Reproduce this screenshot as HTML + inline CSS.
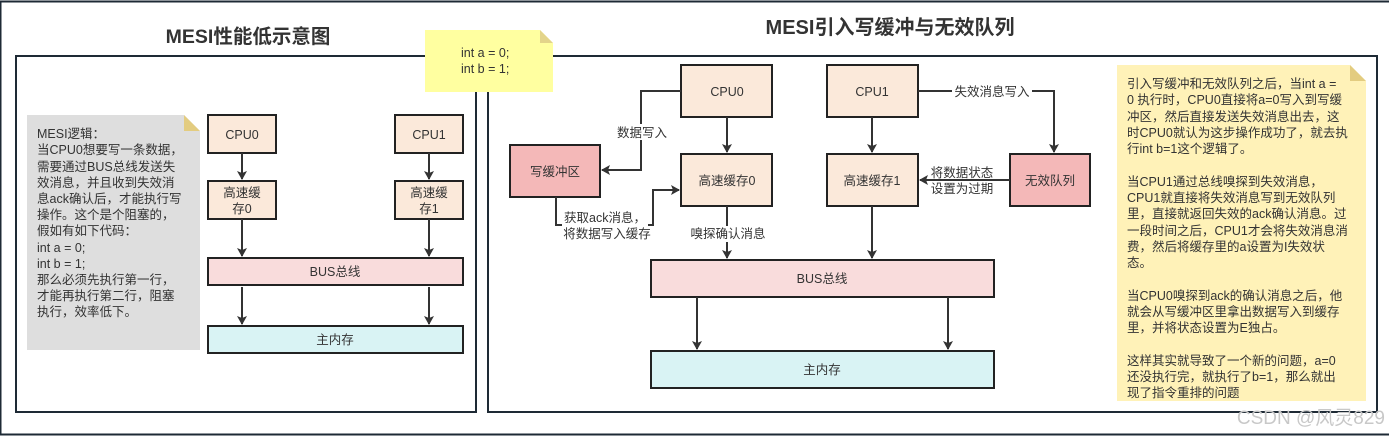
<!DOCTYPE html>
<html><head><meta charset="utf-8"><style>
body{margin:0;background:#fff}
svg{display:block}
text{font-family:"Liberation Sans","Noto Sans CJK SC",sans-serif;fill:#333;font-size:12.5px}
</style></head><body>
<svg width="1389" height="439" viewBox="0 0 1389 439" xmlns="http://www.w3.org/2000/svg">
<defs><marker id="a" markerWidth="10" markerHeight="10" refX="8" refY="5" orient="auto" markerUnits="userSpaceOnUse"><path d="M0,0 L9,5 L0,10 L2,5 Z" fill="#333"/></marker></defs>
<rect x="0.5" y="1.5" width="1400" height="433" fill="none" stroke="#1e2a35" stroke-width="2"/>
<text x="248" y="43" text-anchor="middle" style="font-size:19.5px;font-weight:bold;fill:#333">MESI性能低示意图</text>
<text x="890" y="34" text-anchor="middle" style="font-size:20px;font-weight:bold;fill:#333">MESI引入写缓冲与无效队列</text>
<rect x="16" y="56" width="460" height="356" fill="none" stroke="#1e2a35" stroke-width="2"/>
<rect x="488" y="56" width="889" height="356" fill="none" stroke="#1e2a35" stroke-width="2"/>
<!-- yellow note -->
<path d="M425,30 H540 L553,43 V92 H425 Z" fill="#ffffa0"/><path d="M540,30 L553,43 H540 Z" fill="#e3d48a"/>
<text x="461" y="57">int a = 0;</text><text x="461" y="73">int b = 1;</text>
<!-- gray note -->
<path d="M27,115 H184 L200,131 V350 H27 Z" fill="#dedede"/><path d="M184,115 L200,131 H184 Z" fill="#e3cc80"/>
<g style="font-size:12.5px"><text x="37" y="138">MESI逻辑：</text><text x="37" y="154">当CPU0想要写一条数据，</text><text x="37" y="171">需要通过BUS总线发送失</text><text x="37" y="187">效消息，并且收到失效消</text><text x="37" y="203">息ack确认后，才能执行写</text><text x="37" y="219">操作。这个是个阻塞的，</text><text x="37" y="235">假如有如下代码：</text><text x="37" y="252">int a = 0;</text><text x="37" y="268">int b = 1;</text><text x="37" y="284">那么必须先执行第一行，</text><text x="37" y="300">才能再执行第二行，阻塞</text><text x="37" y="316">执行，效率低下。</text></g>
<!-- left diagram -->
<g stroke="#222" stroke-width="2">
<rect x="208" y="115" width="68" height="38" fill="#fbe9da"/>
<rect x="395" y="115" width="68" height="38" fill="#fbe9da"/>
<rect x="208" y="181" width="68" height="38" fill="#fbe9da"/>
<rect x="395" y="181" width="68" height="38" fill="#fbe9da"/>
<rect x="208" y="258" width="255" height="27" fill="#f9dcdc"/>
<rect x="208" y="326" width="255" height="27" fill="#d9f3f4"/>
</g>
<g stroke="#333" stroke-width="2" marker-end="url(#a)">
<line x1="242" y1="153" x2="242" y2="179"/><line x1="429" y1="153" x2="429" y2="179"/>
<line x1="242" y1="219" x2="242" y2="256"/><line x1="429" y1="219" x2="429" y2="256"/>
<line x1="242" y1="287" x2="242" y2="324"/><line x1="429" y1="287" x2="429" y2="324"/>
</g>
<text x="242" y="139" text-anchor="middle">CPU0</text><text x="429" y="139" text-anchor="middle">CPU1</text>
<text x="242" y="197" text-anchor="middle">高速缓</text><text x="242" y="213" text-anchor="middle">存0</text>
<text x="429" y="197" text-anchor="middle">高速缓</text><text x="429" y="213" text-anchor="middle">存1</text>
<text x="335" y="276" text-anchor="middle">BUS总线</text><text x="335" y="344" text-anchor="middle">主内存</text>
<!-- right diagram -->
<g stroke="#222" stroke-width="2">
<rect x="681" y="65" width="91" height="52" fill="#fbe9da"/>
<rect x="827" y="65" width="91" height="52" fill="#fbe9da"/>
<rect x="681" y="154" width="91" height="52" fill="#fbe9da"/>
<rect x="827" y="154" width="91" height="52" fill="#fbe9da"/>
<rect x="510" y="145" width="90" height="52" fill="#f4b8b8"/>
<rect x="1010" y="154" width="80" height="52" fill="#f4b8b8"/>
<rect x="651" y="260" width="343" height="37" fill="#f9dcdc"/>
<rect x="651" y="351" width="343" height="37" fill="#d9f3f4"/>
</g>
<g stroke="#333" stroke-width="2" fill="none" marker-end="url(#a)">
<line x1="727" y1="117" x2="727" y2="152"/><line x1="872" y1="117" x2="872" y2="152"/>
<line x1="727" y1="206" x2="727" y2="258"/><line x1="872" y1="206" x2="872" y2="258"/>
<line x1="697" y1="297" x2="697" y2="349"/><line x1="948" y1="297" x2="948" y2="349"/>
<polyline points="681,91 641,91 641,170 602,170"/>
<polyline points="556,197 556,225 653,225 653,190 679,190"/>
<polyline points="918,91 1054,91 1054,152"/>
<line x1="1010" y1="180" x2="920" y2="180"/>
</g>
<g style="font-size:12.5px">
<rect x="613" y="124" width="58" height="16" fill="#fff"/><text x="642" y="137" text-anchor="middle">数据写入</text>
<rect x="952" y="83" width="80" height="16" fill="#fff"/><text x="992" y="96" text-anchor="middle">失效消息写入</text>
<text x="962" y="177" text-anchor="middle">将数据状态</text><text x="962" y="193" text-anchor="middle">设置为过期</text>
<rect x="562" y="210" width="86" height="30" fill="#fff"/>
<text x="605" y="222" text-anchor="middle">获取ack消息，</text><text x="607" y="238" text-anchor="middle">将数据写入缓存</text>
<rect x="687" y="226" width="82" height="16" fill="#fff"/><text x="728" y="238" text-anchor="middle">嗅探确认消息</text>
</g>
<text x="727" y="96" text-anchor="middle">CPU0</text><text x="872" y="96" text-anchor="middle">CPU1</text>
<text x="727" y="185" text-anchor="middle">高速缓存0</text><text x="872" y="185" text-anchor="middle">高速缓存1</text>
<text x="555" y="176" text-anchor="middle">写缓冲区</text><text x="1050" y="185" text-anchor="middle">无效队列</text>
<text x="822" y="283" text-anchor="middle">BUS总线</text><text x="822" y="374" text-anchor="middle">主内存</text>
<!-- right note -->
<path d="M1117,65 H1350 L1366,81 V401 H1117 Z" fill="#fff2b8"/><path d="M1350,65 L1366,81 H1350 Z" fill="#e3cc80"/>
<g style="font-size:12px">
<text x="1127" y="88">引入写缓冲和无效队列之后，当int a =</text>
<text x="1127" y="104">0 执行时，CPU0直接将a=0写入到写缓</text>
<text x="1127" y="121">冲区，然后直接发送失效消息出去，这</text>
<text x="1127" y="137">时CPU0就认为这步操作成功了，就去执</text>
<text x="1127" y="153">行int b=1这个逻辑了。</text>
<text x="1127" y="186">当CPU1通过总线嗅探到失效消息，</text>
<text x="1127" y="202">CPU1就直接将失效消息写到无效队列</text>
<text x="1127" y="218">里，直接就返回失效的ack确认消息。过</text>
<text x="1127" y="235">一段时间之后，CPU1才会将失效消息消</text>
<text x="1127" y="251">费，然后将缓存里的a设置为I失效状</text>
<text x="1127" y="267">态。</text>
<text x="1127" y="300">当CPU0嗅探到ack的确认消息之后，他</text>
<text x="1127" y="316">就会从写缓冲区里拿出数据写入到缓存</text>
<text x="1127" y="332">里，并将状态设置为E独占。</text>
<text x="1127" y="365">这样其实就导致了一个新的问题，a=0</text>
<text x="1127" y="381">还没执行完，就执行了b=1，那么就出</text>
<text x="1127" y="397">现了指令重排的问题</text>
</g>
<text x="1385" y="424" text-anchor="end" style="font-size:19px;fill:#c8c8c8">CSDN @风灵829</text>
</svg>
</body></html>
